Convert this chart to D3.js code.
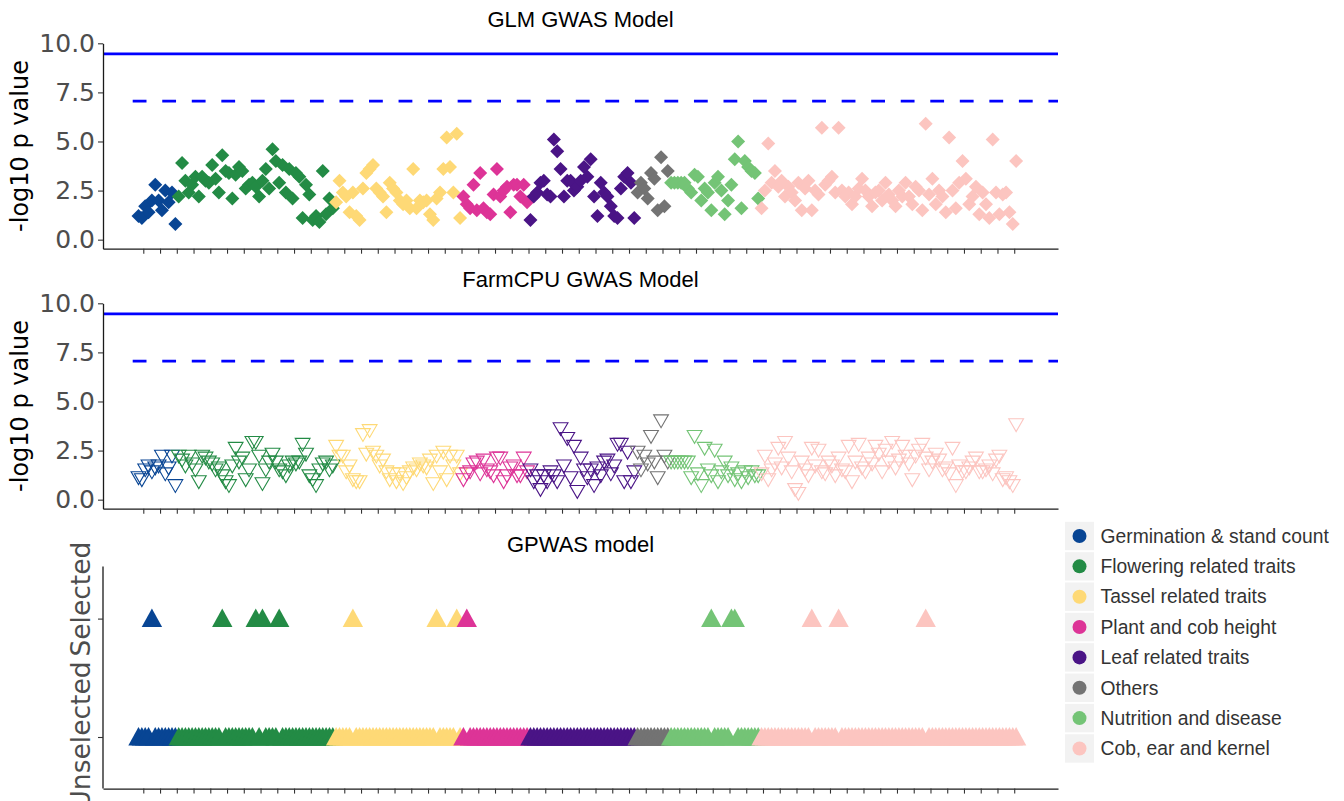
<!DOCTYPE html>
<html>
<head>
<meta charset="utf-8">
<script src="https://d3js.org/d3.v7.min.js"></script>
<style>
body { margin: 0; background: #fff; }
svg text { font-family: "Liberation Sans", Arial, sans-serif; }
.axis text { font-family: "DejaVu Sans", sans-serif; }
</style>
</head>
<body>
<svg id="chart" width="1344" height="801"></svg>
<script>
// trait groups, in plotting order
var groupNames = ["Germination & stand count", "Flowering related traits", "Tassel related traits",
  "Plant and cob height", "Leaf related traits", "Others", "Nutrition and disease", "Cob, ear and kernel"];
var groupColors = ["#084594", "#238b45", "#fed976", "#dd3497", "#4a1486", "#737373", "#74c476", "#fcc5c0"];

// -log10 p, GLM model, one list per group
var glmValues = [
  [1.2, 1.1, 1.7, 1.4, 2.0, 2.8, 2.0, 1.5, 2.5, 1.9, 2.4, 0.8],
  [2.2, 3.9, 3.0, 2.4, 2.8, 3.2, 2.2, 3.2, 3.0, 2.9, 3.8, 3.1, 2.4, 4.3, 3.5, 3.4, 2.1, 3.3, 3.7, 3.5,
   2.6, 2.8, 2.9, 2.7, 2.2, 3.0, 3.6, 2.6, 4.6, 4.0, 2.9, 3.8, 2.4, 3.6, 2.1, 3.4, 3.2, 1.1, 2.8, 2.3,
   1.0, 1.2, 0.9, 3.5, 1.3, 2.1, 1.6],
  [1.9, 3.0, 2.4, 2.2, 1.4, 2.4, 1.2, 1.0, 2.6, 3.4, 3.6, 3.8, 2.6, 2.4, 2.2, 1.4, 2.9, 2.6, 2.4, 2.0,
   1.8, 2.0, 1.6, 3.6, 1.6, 2.0, 1.9, 2.0, 1.3, 1.0, 2.1, 2.4, 3.6, 5.2, 3.7, 2.4, 5.4, 1.1],
  [2.2, 1.8, 1.6, 2.8, 1.5, 3.4, 1.6, 1.4, 1.3, 2.3, 3.6, 2.2, 2.5, 2.7, 1.4, 2.8, 2.8, 2.2, 2.8, 1.9],
  [1.0, 2.2, 2.4, 2.9, 3.0, 2.3, 2.2, 5.1, 4.5, 3.6, 2.2, 3.0, 3.0, 2.5, 2.7, 3.0, 3.7, 3.2, 4.1, 2.2,
   1.2, 2.9, 2.4, 2.2, 1.7, 1.2, 1.1, 2.6, 3.2, 3.4, 2.9, 1.1],
  [2.4, 2.9, 2.6, 2.1, 3.4, 3.1, 1.5, 4.2, 1.7, 3.5],
  [2.9, 2.9, 2.9, 2.9, 2.9, 2.6, 2.4, 3.3, 3.2, 2.0, 2.6, 2.4, 1.5, 2.9, 3.2, 2.5, 1.3, 2.0, 2.8, 4.1,
   5.0, 1.6, 4.0, 3.7, 3.5, 3.4, 2.1],
  [1.6, 2.5, 4.9, 2.9, 3.5, 2.7, 3.0, 2.2, 2.7, 2.4, 2.0, 2.9, 1.5, 2.6, 3.0, 1.5, 2.5, 2.3, 5.7, 2.8,
   3.0, 3.2, 2.4, 5.7, 2.5, 2.2, 2.4, 1.8, 2.2, 2.6, 3.1, 2.5, 2.2, 1.7, 2.4, 2.5, 2.0, 2.9, 2.3, 2.0,
   1.7, 2.5, 2.2, 2.9, 2.2, 1.8, 2.7, 2.5, 1.5, 5.9, 2.3, 3.1, 1.8, 2.5, 2.2, 1.4, 5.2, 2.5, 1.6, 2.9,
   4.0, 3.1, 1.8, 2.2, 2.7, 1.3, 2.4, 1.8, 1.1, 5.1, 2.4, 1.3, 2.3, 2.4, 1.4, 0.8, 4.0]
];

// -log10 p, FarmCPU model
var farmcpuValues = [
  [1.2, 1.1, 1.6, 1.8, 1.5, 1.7, 1.8, 2.3, 1.4, 1.7, 2.3, 0.8],
  [2.3, 2.1, 1.8, 2.3, 1.9, 1.6, 1.0, 2.3, 2.2, 2.0, 1.9, 1.6, 1.7, 1.3, 1.0, 0.8, 1.8, 2.7, 2.0, 2.2,
   1.1, 1.6, 3.0, 3.0, 2.3, 0.9, 1.6, 2.0, 2.4, 2.0, 1.6, 1.5, 1.3, 1.8, 2.0, 1.9, 2.0, 2.9, 2.4, 1.3,
   1.1, 0.8, 1.6, 1.9, 2.0, 1.6, 1.8],
  [2.8, 2.3, 2.3, 1.5, 1.8, 1.1, 1.0, 1.0, 3.4, 2.4, 3.6, 2.5, 2.3, 1.8, 2.1, 1.5, 1.1, 1.4, 1.0, 1.4,
   0.9, 1.2, 1.5, 1.7, 1.6, 1.9, 1.8, 1.7, 2.1, 0.9, 2.3, 1.5, 2.5, 1.1, 2.3, 1.8, 2.3, 1.4],
  [1.1, 1.4, 1.5, 1.9, 2.0, 1.4, 2.1, 1.6, 1.5, 1.3, 2.2, 2.2, 1.0, 1.3, 1.7, 1.8, 1.3, 1.3, 2.2, 1.5],
  [1.6, 1.0, 1.3, 0.6, 1.3, 1.0, 1.5, 1.3, 1.0, 3.7, 1.8, 3.2, 1.2, 2.8, 0.5, 2.2, 1.6, 1.2, 1.6, 0.8,
   1.7, 1.3, 2.0, 2.1, 1.4, 1.8, 2.9, 2.9, 1.0, 2.5, 1.0, 1.5],
  [2.5, 1.6, 2.3, 1.9, 3.3, 2.0, 1.2, 4.1, 2.3, 2.0],
  [2.0, 2.0, 2.0, 2.0, 2.0, 2.0, 1.2, 3.3, 1.4, 0.8, 2.7, 1.6, 1.3, 2.6, 1.0, 1.5, 2.0, 1.3, 1.7, 1.1,
   1.4, 1.0, 1.5, 1.2, 1.5, 1.3, 1.3],
  [1.4, 2.3, 1.1, 1.6, 1.9, 2.7, 1.7, 3.0, 2.2, 1.5, 0.6, 0.4, 2.0, 1.6, 1.3, 2.7, 1.8, 2.6, 1.5, 1.4,
   2.0, 1.8, 1.3, 2.2, 1.6, 1.5, 2.8, 1.0, 2.0, 2.9, 1.7, 1.5, 2.2, 1.9, 2.8, 2.4, 1.5, 2.6, 2.0, 3.0,
   1.7, 2.1, 2.8, 2.3, 1.9, 1.1, 2.3, 2.6, 2.9, 2.2, 1.6, 2.0, 2.4, 2.1, 1.6, 1.7, 1.4, 2.7, 0.8, 1.8,
   1.5, 1.5, 1.7, 2.0, 2.2, 1.5, 1.5, 1.6, 1.8, 1.4, 2.1, 2.3, 1.1, 1.2, 1.0, 0.8, 3.9]
];

// traits picked by GPWAS (position along the trait axis)
var gpwasSelected = [4, 25, 35, 37, 42, 64, 89, 95, 98, 171, 177, 178, 201, 209, 235];
var gpwasLevels = ["Unselected", "Selected"];

var yTicks = [0, 2.5, 5, 7.5, 10];
var bonferroniLine = 9.46;
var suggestiveLine = 7.06;

var svg = d3.select("svg#chart");

var traits = [];
groupNames.forEach(function(name, g) {
  glmValues[g].forEach(function(v, j) {
    var i = traits.length;
    traits.push({
      i: i, group: g, glm: v, farmcpu: farmcpuValues[g][j],
      gpwas: gpwasSelected.indexOf(i) >= 0 ? "Selected" : "Unselected"
    });
  });
});

var x = d3.scaleLinear().domain([-10.6, 274.5]).range([103, 1058]);
var xTicks = d3.range(53).map(function(k) { return 1.43 + 5 * k; });

var diamond = "M0,-7L7,0L0,7L-7,0Z";
var downTri = "M-7.4,-4.3L7.4,-4.3L0,8.5Z";
var upTri = "M0,-10L10.2,8.4L-10.2,8.4Z";

function styleAxis(g) {
  g.select(".domain").attr("stroke", "#1a1a1a").attr("stroke-width", 1.3);
  g.selectAll(".tick line").attr("stroke", "#333").attr("stroke-width", 1.1);
  g.selectAll(".tick text").attr("fill", "#4d4d4d").style("font-size", "25px");
}

function drawXAxis(yPos) {
  svg.append("g")
      .attr("class", "axis")
      .attr("transform", "translate(0," + yPos + ")")
      .call(d3.axisBottom(x).tickValues(xTicks).tickFormat("").tickSize(5).tickSizeOuter(0))
      .call(styleAxis);
}

function drawTitle(txt, yPos) {
  svg.append("text")
      .attr("x", (x.range()[0] + x.range()[1]) / 2)
      .attr("y", yPos)
      .attr("text-anchor", "middle")
      .style("font-size", "22px")
      .text(txt);
}

function drawGwasPanel(top, bottom, title, key, shape) {
  var y = d3.scaleLinear().domain([-0.46, 10]).range([bottom, top]);

  drawTitle(title, top - 16);

  svg.append("line")
      .attr("x1", x.range()[0]).attr("x2", x.range()[1])
      .attr("y1", y(bonferroniLine)).attr("y2", y(bonferroniLine))
      .attr("stroke", "#0000ff").attr("stroke-width", 2.7);

  svg.append("line")
      .attr("x1", x.range()[0] + 29.7).attr("x2", x.range()[1])
      .attr("y1", y(suggestiveLine)).attr("y2", y(suggestiveLine))
      .attr("stroke", "#0000ff").attr("stroke-width", 2.7)
      .attr("stroke-dasharray", "13.8,15.74");

  var pts = svg.append("g").selectAll("path")
      .data(traits)
      .enter().append("path")
      .attr("d", shape)
      .attr("transform", function(d) { return "translate(" + x(d.i) + "," + y(d[key]) + ")"; });
  if (shape === diamond) {
    pts.attr("fill", function(d) { return groupColors[d.group]; });
  } else {
    pts.attr("fill", "none")
       .attr("stroke-width", 1.1)
       .attr("stroke", function(d) { return groupColors[d.group]; });
  }

  svg.append("g")
      .attr("class", "axis")
      .attr("transform", "translate(" + x.range()[0] + ",0)")
      .call(d3.axisLeft(y).tickValues(yTicks).tickFormat(d3.format(".1f")).tickSize(5).tickPadding(3).tickSizeOuter(0))
      .call(styleAxis);

  drawXAxis(bottom);

  svg.append("text")
      .attr("class", "axis")
      .attr("transform", "translate(28," + (top + bottom) / 2 + ") rotate(-90)")
      .attr("text-anchor", "middle")
      .style("font-family", "DejaVu Sans")
      .style("font-size", "24px")
      .text("-log10 p value");
}

drawGwasPanel(43.3, 248.7, "GLM GWAS Model", "glm", diamond);
drawGwasPanel(303.3, 508.7, "FarmCPU GWAS Model", "farmcpu", downTri);

// GPWAS panel
var gTop = 566.4, gBottom = 788.6;
var yg = d3.scalePoint().domain(gpwasLevels).range([737, 618.6]);

drawTitle("GPWAS model", gTop - 14);

svg.append("g").selectAll("path")
    .data(traits)
    .enter().append("path")
    .attr("d", upTri)
    .attr("fill", function(d) { return groupColors[d.group]; })
    .attr("transform", function(d) { return "translate(" + x(d.i) + "," + yg(d.gpwas) + ")"; });

var gAxis = svg.append("g")
    .attr("class", "axis")
    .attr("transform", "translate(" + x.range()[0] + ",0)")
    .call(d3.axisLeft(yg).tickSize(5).tickSizeOuter(0))
    .call(styleAxis);
gAxis.select(".domain").attr("d", "M0," + gTop + "V" + gBottom);
gAxis.selectAll(".tick text")
    .attr("x", null).attr("dy", null)
    .attr("text-anchor", "middle")
    .style("font-size", "26.5px")
    .attr("transform", function(d) { return "translate(-13," + (d === "Selected" ? -20 : -2) + ") rotate(-90)"; });

drawXAxis(gBottom);

// legend
var legend = svg.append("g").selectAll("g")
    .data(groupNames)
    .enter().append("g")
    .attr("transform", function(d, i) { return "translate(1065," + (536 + 30.35 * i) + ")"; });

legend.append("rect")
    .attr("x", 0).attr("y", -14.2)
    .attr("width", 29).attr("height", 28.4)
    .attr("fill", "#f2f2f2");

legend.append("circle")
    .attr("cx", 14.5).attr("r", 7)
    .attr("fill", function(d, i) { return groupColors[i]; });

legend.append("text")
    .attr("x", 35.5).attr("dy", "0.35em")
    .attr("fill", "#333")
    .style("font-size", "19.3px")
    .text(function(d) { return d; });
</script>
</body>
</html>
